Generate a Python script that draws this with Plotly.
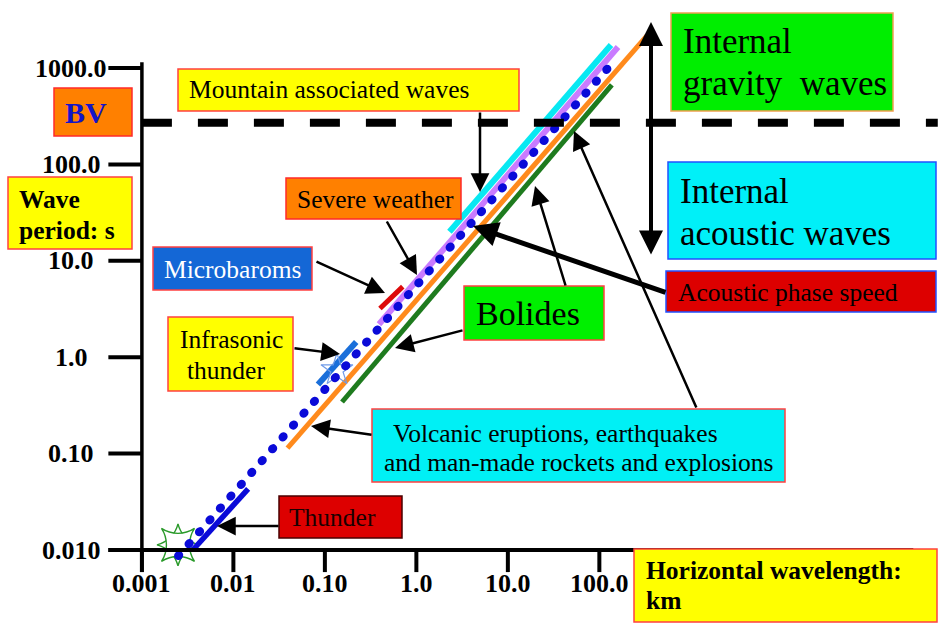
import numpy as np
import plotly.graph_objects as go

# ---------------- page / scale calibration ----------------
FIG_W, FIG_H = 940, 624
PX_PER_DEC_X = 91.49          # pixels per decade of wavelength
PX_PER_DEC_Y = 96.4           # pixels per decade of period
ORIGIN_X_PX, ORIGIN_Y_PX = 141.9, 550.0   # page position of (0.001 km, 0.01 s)

x_range = [-3 - ORIGIN_X_PX / PX_PER_DEC_X, -3 + (FIG_W - ORIGIN_X_PX) / PX_PER_DEC_X]
y_range = [-2 - (FIG_H - ORIGIN_Y_PX) / PX_PER_DEC_Y, -2 + ORIGIN_Y_PX / PX_PER_DEC_Y]

# ---------------- data ----------------
x_tick_vals = [0.001, 0.01, 0.1, 1.0, 10.0, 100.0]
x_tick_text = ["0.001", "0.01", "0.10", "1.0", "10.0", "100.0"]
y_tick_vals = [0.01, 0.1, 1.0, 10.0, 100.0, 1000.0]
y_tick_text = ["0.010", "0.10", "1.0", "10.0", "100.0", "1000.0"]

x_axis_at = 0.01                  # s, the wavelength axis crosses here
y_axis_at = 0.001                 # km, the period axis crosses here
x_axis_span = [4.3e-4, 2.7e5]     # km
y_axis_span = [0.0059, 1150.0]    # s
x_tick_low = 0.0059               # s, lower end of wavelength tick marks
y_tick_left = 4.3e-4              # km, left end of period tick marks

bv_period = 270.0                 # Brunt-Vaisala period, s
bv_span = [0.001, 5.0e5]          # km

# wavelength (km) / period (s) spans of each band
acoustic_wl = [0.0025, 145.0]
acoustic_T = [0.0087, 1180.0]
thunder_wl = [0.0036, 0.0145]
thunder_T = [0.010, 0.043]
infrasonic_wl = [0.084, 0.22]
infrasonic_T = [0.52, 1.44]
microbarom_wl = [0.40, 0.71]
microbarom_T = [3.2, 5.4]
severe_wl = [0.39, 160.0]
severe_T = [2.2, 1650.0]
mountain_wl = [2.3, 134.0]
mountain_T = [20.0, 1730.0]
volcanic_wl = [0.039, 330.0]
volcanic_T = [0.114, 2150.0]
bolide_wl = [0.154, 137.0]
bolide_T = [0.343, 667.0]

lightning_wl, lightning_T = [0.00248], [0.0113]
thunder_src_wl, thunder_src_T = [0.1355], [0.736]

SERIF = "Liberation Serif, Times New Roman, serif"


def paper(xp, yp):
    return xp / FIG_W, 1 - yp / FIG_H


fig = go.Figure()


def seg(xv, yv, color, width, dash=None):
    fig.add_trace(go.Scatter(
        x=xv, y=yv, mode="lines", hoverinfo="skip", showlegend=False,
        line=dict(color=color, width=width, dash=dash)))


# source bands
seg(volcanic_wl, volcanic_T, "#FF8A1C", 5)
seg(bolide_wl, bolide_T, "#1E7B1E", 5)
seg(severe_wl, severe_T, "#C97BFF", 6)
seg(mountain_wl, mountain_T, "#08E8F2", 6)
seg(microbarom_wl, microbarom_T, "#DD0A0A", 5)
seg(infrasonic_wl, infrasonic_T, "#1A6FDA", 6)

# source markers
fig.add_trace(go.Scatter(
    x=thunder_src_wl, y=thunder_src_T, mode="markers", hoverinfo="skip", showlegend=False,
    marker=dict(symbol="star-open", size=24, color="#6F9BE8", line=dict(width=1.2))))
for sym in ["star-diamond", "star-square"]:
    fig.add_trace(go.Scatter(
        x=lightning_wl, y=lightning_T, mode="markers", hoverinfo="skip", showlegend=False,
        marker=dict(symbol=sym, size=30, color="white", line=dict(color="#2A9A2A", width=1.4))))

# acoustic phase speed (dotted) and thunder
seg(acoustic_wl, acoustic_T, "#0A0AD8", 8.5, dash="1px,14.8px")
seg(thunder_wl, thunder_T, "#0A0AD8", 5.5)

# Brunt-Vaisala period
seg(bv_span, [bv_period, bv_period], "black", 8, dash="30px,26px")

# axes
seg(x_axis_span, [x_axis_at, x_axis_at], "black", 4)
seg([y_axis_at, y_axis_at], y_axis_span, "black", 3.5)
tx, ty = [], []
for v in x_tick_vals:
    tx += [v, v, None]
    ty += [x_axis_at, x_tick_low, None]
seg(tx, ty, "black", 4)
tx, ty = [], []
for v in y_tick_vals:
    tx += [y_tick_left, y_axis_at, None]
    ty += [v, v, None]
seg(tx, ty, "black", 4)

# tick labels
for v, t in zip(x_tick_vals, x_tick_text):
    fig.add_annotation(x=np.log10(v), y=paper(0, 583)[1], xref="x", yref="paper",
                       text=f"<b>{t}</b>", showarrow=False, xanchor="center", yanchor="middle",
                       font=dict(family=SERIF, size=26, color="black"))
for v, t in zip(y_tick_vals, y_tick_text):
    fig.add_annotation(x=paper(71, 0)[0], y=np.log10(v), xref="paper", yref="y",
                       text=f"<b>{t}</b>", showarrow=False, xanchor="center", yanchor="middle",
                       font=dict(family=SERIF, size=26, color="black"))

# label boxes: x0, y0, x1, y1 (page px), fill, edge
boxes = [
    (54, 88, 132, 136, "#FF8000", "#FF2A2A"),
    (8, 177, 132, 249, "#FFFF00", "#FF4040"),
    (178, 69, 519, 111, "#FFFF00", "#FF4040"),
    (286, 178, 461, 219, "#FF8000", "#FF2A2A"),
    (153, 247, 312, 290, "#1467D6", "#FF4040"),
    (168, 317, 293, 391, "#FFFF00", "#FF4040"),
    (279, 496, 402, 538, "#DD0000", "#4A0000"),
    (464, 286, 604, 340, "#00F000", "#FF4040"),
    (372, 409, 785, 482, "#00F0F5", "#FF4040"),
    (671, 13, 893, 111, "#00EE00", "#F0A050"),
    (668, 162, 936, 259, "#00F0F8", "#2050FF"),
    (666, 271, 936, 312, "#DD0000", "#2050FF"),
    (634, 549, 937, 622, "#FFFF00", "#FF4040"),
]
for x0, y0, x1, y1, fill, edge in boxes:
    px0, py0 = paper(x0, y0)
    px1, py1 = paper(x1, y1)
    fig.add_shape(type="rect", xref="paper", yref="paper", x0=px0, y0=py0, x1=px1, y1=py1,
                  fillcolor=fill, line=dict(color=edge, width=1.5), layer="above")

# texts: text, x, y (page px), size, color, bold, anchor
texts = [
    ("BV", 86, 112, 30, "#1414C8", True, "center"),
    ("Wave", 18, 199, 25.5, "black", True, "left"),
    ("period: s", 18, 230, 25.5, "black", True, "left"),
    ("Mountain associated waves", 188, 90, 25.5, "black", False, "left"),
    ("Severe weather", 296, 199, 25.5, "black", False, "left"),
    ("Microbaroms", 163, 269, 25.5, "white", False, "left"),
    ("Infrasonic", 179, 340, 25.5, "black", False, "left"),
    ("thunder", 186, 370, 25.5, "black", False, "left"),
    ("Thunder", 288, 517, 25.5, "#1A0000", False, "left"),
    ("Bolides", 475, 313, 34, "black", False, "left"),
    ("Volcanic eruptions, earthquakes", 392, 433, 25.5, "black", False, "left"),
    ("and man-made rockets and explosions", 383, 462, 25.5, "black", False, "left"),
    ("Internal", 682, 42, 35, "black", False, "left"),
    ("gravity  waves", 682, 84, 35, "black", False, "left"),
    ("Internal", 679, 191, 35, "black", False, "left"),
    ("acoustic waves", 679, 233, 35, "black", False, "left"),
    ("Acoustic phase speed", 677, 292, 25.5, "black", False, "left"),
    ("Horizontal wavelength:", 645, 570, 25.5, "black", True, "left"),
    ("km", 645, 600, 25.5, "black", True, "left"),
]
for t, x, y, size, color, bold, anchor in texts:
    xp, yp = paper(x, y)
    fig.add_annotation(x=xp, y=yp, xref="paper", yref="paper", showarrow=False,
                       text=f"<b>{t}</b>" if bold else t.replace("  ", "&nbsp; "),
                       xanchor=anchor, yanchor="middle", borderpad=0,
                       font=dict(family=SERIF, size=size, color=color))

# pointer arrows: head (px), tail (px), width, head size
arrows = [
    ((480, 192), (480, 111), 2.5, 1.5),
    ((417, 275), (386, 220), 2.5, 1.5),
    ((385, 293), (315, 261), 2.5, 1.5),
    ((340, 354), (293, 348), 2.5, 1.5),
    ((395, 348), (464, 330), 2.5, 1.5),
    ((535, 186), (566, 287), 2.5, 1.5),
    ((473, 226), (667, 293), 5, 1.0),
    ((311, 426), (373, 435), 2.5, 1.5),
    ((574, 131), (697, 409), 2.5, 1.5),
    ((217, 526), (280, 526), 2.5, 1.5),
]
for (hx, hy), (tx_, ty_), w, s in arrows:
    xp, yp = paper(hx, hy)
    fig.add_annotation(x=xp, y=yp, xref="paper", yref="paper", ax=tx_ - hx, ay=ty_ - hy,
                       axref="pixel", ayref="pixel", text="", showarrow=True,
                       arrowhead=2, arrowwidth=w, arrowsize=s, arrowcolor="black", standoff=0)

# gravity / acoustic regime double arrow
xp, yp = paper(651, 22)
fig.add_annotation(x=xp, y=yp, xref="paper", yref="paper", ax=0, ay=256 - 22,
                   axref="pixel", ayref="pixel", text="", showarrow=True,
                   arrowhead=2, startarrowhead=2, arrowside="end+start",
                   arrowwidth=4, arrowsize=1.2, startarrowsize=1.2,
                   arrowcolor="black", standoff=0, startstandoff=0)

fig.update_layout(
    width=FIG_W, height=FIG_H,
    margin=dict(l=0, r=0, t=0, b=0),
    paper_bgcolor="white", plot_bgcolor="white",
    xaxis=dict(type="log", range=x_range, visible=False, fixedrange=True),
    yaxis=dict(type="log", range=y_range, visible=False, fixedrange=True),
    showlegend=False,
)

round_dots = (
    "var gd=document.getElementById('{plot_id}');"
    "gd.querySelectorAll('path.js-line').forEach(function(p){"
    "var d=p.style.strokeDasharray||'';"
    "if(d.indexOf('1px')===0){p.style.strokeLinecap='round';}});"
)
fig.write_html("out.html", config={"displayModeBar": False, "staticPlot": True},
               post_script=round_dots)
